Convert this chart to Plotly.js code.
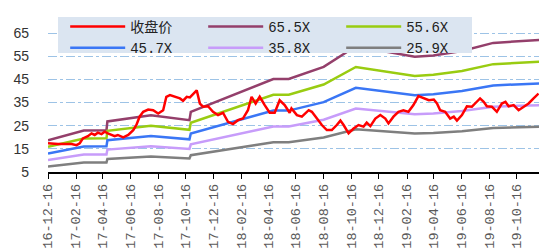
<!DOCTYPE html>
<html><head><meta charset="utf-8">
<script src="https://cdn.plot.ly/plotly-3.0.1.min.js"></script>
<style>html,body{margin:0;padding:0;background:#fff;}#chart{width:539px;height:251px;}</style>
</head><body><div id="chart"></div>
<script>
const closeDates = ['2016-12-16','2017-01-07','2017-02-06','2017-02-17','2017-02-24','2017-03-03','2017-03-14','2017-03-22','2017-03-29','2017-04-05','2017-04-13','2017-04-20','2017-04-27','2017-05-05','2017-05-12','2017-05-19','2017-05-31','2017-06-11','2017-06-22','2017-06-29','2017-07-06','2017-07-14','2017-07-25','2017-08-05','2017-08-16','2017-08-27','2017-09-03','2017-09-11','2017-09-22','2017-10-03','2017-10-10','2017-10-18','2017-10-25','2017-11-01','2017-11-09','2017-11-16','2017-11-23','2017-12-04','2017-12-15','2017-12-26','2018-01-06','2018-01-17','2018-01-28','2018-02-08','2018-02-19','2018-03-02','2018-03-10','2018-03-19','2018-03-28','2018-04-08','2018-04-19','2018-04-30','2018-05-11','2018-05-22','2018-06-02','2018-06-06','2018-06-18','2018-06-29','2018-07-07','2018-07-14','2018-07-21','2018-08-01','2018-08-12','2018-08-23','2018-09-03','2018-09-14','2018-09-22','2018-09-29','2018-10-10','2018-10-21','2018-11-01','2018-11-12','2018-11-19','2018-11-27','2018-12-08','2018-12-19','2018-12-30','2019-01-06','2019-01-17','2019-01-28','2019-02-08','2019-02-19','2019-03-02','2019-03-13','2019-03-24','2019-04-05','2019-04-16','2019-04-23','2019-04-30','2019-05-11','2019-05-22','2019-05-30','2019-06-06','2019-06-17','2019-06-28','2019-07-09','2019-07-16','2019-07-27','2019-08-04','2019-08-11','2019-08-22','2019-09-02','2019-09-13','2019-09-21','2019-09-28','2019-10-09','2019-10-20','2019-10-31','2019-11-11','2019-11-22','2019-12-03'];
const closePrices = [17.4,17.1,17.1,16.6,17.4,19.5,20.5,21.7,21,22,21.4,22.4,21.7,21,20.5,21,20,21,23.1,25.3,28.9,31,32,31.7,30.3,31.7,37.5,38.2,37.5,36.8,35.8,37.5,37.2,38.6,40.3,34.6,33.2,33.4,31,29.6,30.6,26.7,25.7,27.4,28.1,31.7,37.5,34.6,37.5,33.9,30.6,30.6,36,33.9,30.6,32.5,29.6,28.9,30.3,31.7,31,28.1,25.3,23.1,23.1,25.3,27.2,25.3,21.7,23.8,25.3,24.6,26.3,24.8,28.1,29.6,28.1,26,28.9,31,31.7,31,33.9,37.8,36.8,36,36.3,34.6,31.7,31,28.1,28.9,27.2,29.6,33.4,33.2,34.6,36.8,35.3,33.4,33.2,31,34.6,35.3,33.4,33.9,31.7,33.2,34.6,36.8,38.9];

const bandDates = ['2016-12-16','2017-03-05','2017-04-24','2017-04-26','2017-07-31','2017-10-24','2017-10-27','2018-04-27','2018-05-31','2018-08-16','2018-10-26','2018-12-11','2019-01-10','2019-03-05','2019-04-15','2019-06-17','2019-08-25','2019-12-05'];
const pe655 = [18.67,22.93,23.06,26.86,29.48,27.38,30.98,45.20,45.20,50.44,59.34,57.77,56.66,54.76,55.35,57.31,60.78,62.03];
const pe556 = [15.85,19.46,19.57,22.80,25.02,23.24,26.30,38.36,38.36,42.81,50.37,49.04,48.09,46.48,46.98,48.65,51.60,52.65];
const pe457 = [13.02,16.00,16.09,18.74,20.57,19.10,21.62,31.53,31.53,35.19,41.40,40.31,39.53,38.21,38.62,39.99,42.41,43.28];
const pe358 = [10.20,12.53,12.60,14.68,16.11,14.96,16.93,24.70,24.70,27.57,32.43,31.58,30.97,29.93,30.25,31.33,33.22,33.90];
const pe259 = [7.38,9.07,9.12,10.62,11.66,10.83,12.25,17.87,17.87,19.94,23.47,22.84,22.40,21.65,21.89,22.66,24.04,24.53];

const tickDates = ['2016-12-16','2017-02-16','2017-04-16','2017-06-16','2017-08-16','2017-10-16','2017-12-16','2018-02-16','2018-04-16','2018-06-16','2018-08-16','2018-10-16','2018-12-16','2019-02-16','2019-04-16','2019-06-16','2019-08-16','2019-10-16'];
const tickLabels = ['16-12-16','17-02-16','17-04-16','17-06-16','17-08-16','17-10-16','17-12-16','18-02-16','18-04-16','18-06-16','18-08-16','18-10-16','18-12-16','19-02-16','19-04-16','19-06-16','19-08-16','19-10-16'];
const yTicks = [5,15,25,35,45,55,65];

const seriesNames = ['收盘价','65.5X','55.6X','45.7X','35.8X','25.9X'];
const colors = ['#ff0000','#943f6b','#99cc11','#3a76f5','#c79cfa','#7f7f7f'];

const bands = [pe655, pe556, pe457, pe358, pe259];
const traces = [];
bands.forEach((vals, i) => {
  traces.push({type:'scatter', mode:'lines', x: bandDates, y: vals, name: seriesNames[i+1],
    legendrank: i+2, line:{color: colors[i+1], width:2.5}});
});
traces.push({type:'scatter', mode:'lines', x: closeDates, y: closePrices, name: seriesNames[0],
  legendrank: 1, line:{color: colors[0], width:2.5}});

const layout = {
  width:539, height:251,
  margin:{l:48, r:0, t:10, b:79},
  paper_bgcolor:'#ffffff', plot_bgcolor:'#ffffff',
  showlegend:true,
  shapes:[{type:'rect', xref:'paper', yref:'paper', x0:0.0204, x1:0.8635, y0:0.7346, y1:0.9568,
    fillcolor:'#dbe5f1', line:{width:0}, layer:'above'}],
  legend:{orientation:'h', x:0.035, y:0.994, xanchor:'left', yanchor:'top',
    bgcolor:'rgba(0,0,0,0)', entrywidth:68, entrywidthmode:'pixels', itemwidth:55,
    font:{family:"'Liberation Mono','Noto Sans CJK SC',monospace", size:14, color:'#222'},
    traceorder:'normal', tracegroupgap:0},
  xaxis:{type:'date', range:['2016-12-16','2019-12-04'], tickvals: tickDates, ticktext: tickLabels,
    tickangle:-90, ticks:'outside', ticklen:5, tickcolor:'#000', tickwidth:1,
    showline:true, linecolor:'#000', linewidth:1.5, showgrid:false, zeroline:false,
    tickfont:{family:"'Liberation Mono',monospace", size:13.5, color:'#595959'}},
  yaxis:{range:[5,75], tickvals: yTicks, showgrid:true, gridcolor:'#9dc3e6', griddash:'dashdot', gridwidth:1,
    zeroline:false, showline:false, ticks:'', ticklabelstandoff:18,
    tickfont:{family:"'Liberation Sans',Arial,sans-serif", size:14, color:'#333'}}
};
Plotly.newPlot('chart', traces, layout, {displayModeBar:false, staticPlot:true});
</script></body></html>
